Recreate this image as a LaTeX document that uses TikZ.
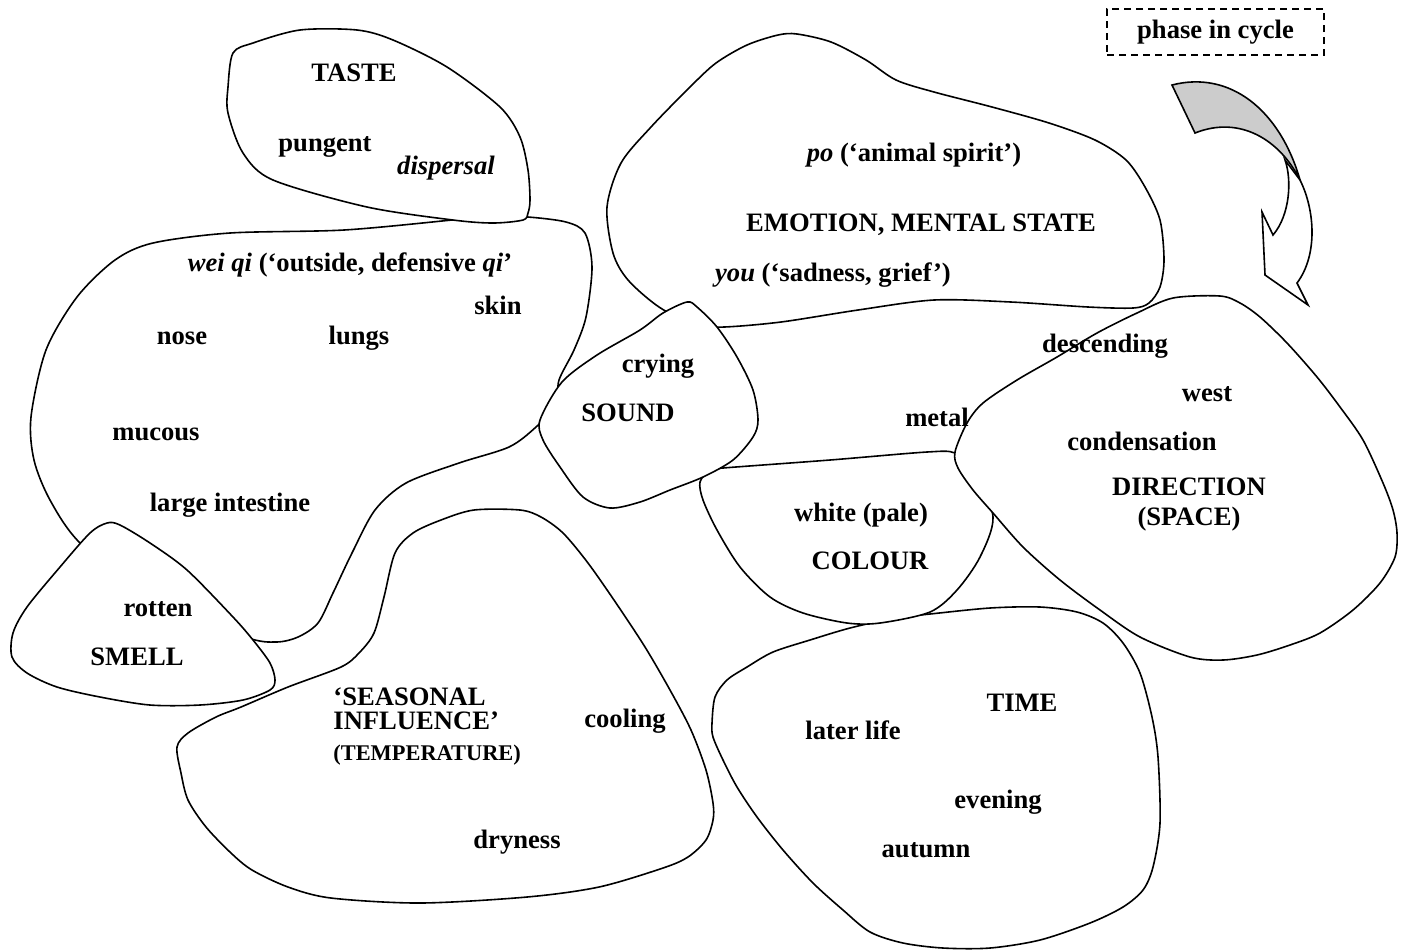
\documentclass[tikz,border=0pt]{standalone}
\usepackage{fontspec}
\setmainfont{Liberation Serif}
\usetikzlibrary{positioning}

\begin{document}
\begin{tikzpicture}[x=0.5pt, y=-0.5pt,
  blob/.style={draw, line width=0.8pt, fill=white},
  ribbon/.style={draw, line width=0.8pt, line join=miter},
  lbl/.style={font=\fontsize{13.3}{15}\selectfont\bfseries, inner sep=0pt, align=center},
  smalllbl/.style={font=\fontsize{11.2}{13}\selectfont\bfseries, inner sep=0pt}]
\useasboundingbox (0,0) rectangle (1406,950);

% Blobs (back to front)
\draw[blob] plot[smooth cycle, tension=0.5] coordinates {(452,220) (344,230) (230,233) (153,243) (115,260) (77,297) (46,350) (31,417) (34,460) (50,500) (80,543) (150,600) (245,637) (276,642) (298,637) (318,623) (333,593) (352,553) (375,510) (406,483) (459,463) (509,447) (536,427) (556,405) (559,380) (574,350) (586,317) (592,267) (585,233) (566,222) (528,217) (490,216)};
\draw[blob] plot[smooth cycle, tension=0.5] coordinates {(607,207) (621,163) (651,127) (690,87) (716,63) (747,45) (778,35) (797,34) (831,42) (866,60) (896,80) (934,92) (992,107) (1049,123) (1095,140) (1126,160) (1145,187) (1160,220) (1164,260) (1160,287) (1149,303) (1133,308) (1088,307) (1011,302) (934,300) (858,310) (781,322) (724,327) (695,325) (659,307) (628,280) (613,253)};
\draw[blob] plot[smooth cycle, tension=0.5] coordinates {(930,614) (990,608) (1040,607) (1077,612) (1103,623) (1123,643) (1140,673) (1152,717) (1158,757) (1160,823) (1153,867) (1143,890) (1123,907) (1090,923) (1040,940) (990,948) (943,948) (903,943) (870,932) (843,910) (813,883) (783,850) (757,817) (737,787) (723,760) (713,737) (712,723) (715,697) (727,680) (747,667) (773,652) (810,640) (850,628) (895,618)};
\draw[blob] plot[smooth cycle, tension=0.5] coordinates {(441,520) (474,510) (520,510) (541,517) (563,533) (588,563) (616,603) (645,647) (670,690) (691,730) (706,770) (713,803) (713,820) (706,840) (688,857) (663,868) (599,887) (527,897) (420,903) (331,898) (288,887) (252,870) (231,853) (206,827) (188,800) (181,773) (177,747) (188,733) (216,717) (241,707) (288,687) (341,667) (359,653) (374,633) (384,597) (395,553) (413,533)};
\draw[blob] plot[smooth cycle, tension=0.5] coordinates {(723,468) (830,460) (927,452) (955,453) (975,470) (993,517) (980,557) (957,590) (930,612) (880,623) (847,623) (803,613) (770,597) (740,567) (717,530) (703,500) (700,482) (710,470)};
\draw[blob] plot[smooth cycle, tension=0.5] coordinates {(687,302) (697,307) (717,327) (737,357) (753,390) (758,420) (753,437) (733,460) (703,477) (670,490) (640,502) (610,508) (583,497) (560,467) (543,440) (540,420) (562,382) (597,355) (640,330) (663,313)};
\draw[blob] plot[smooth cycle, tension=0.5] coordinates {(955,452) (958,468) (973,490) (993,513) (1023,547) (1060,580) (1100,610) (1140,637) (1190,657) (1223,660) (1257,655) (1290,645) (1320,633) (1353,610) (1380,583) (1395,557) (1397,533) (1393,510) (1383,483) (1363,440) (1340,407) (1317,377) (1287,343) (1260,317) (1240,303) (1220,296) (1173,298) (1137,313) (1097,333) (1057,357) (1017,380) (983,403) (967,423)};
\draw[blob] plot[smooth cycle, tension=0.5] coordinates {(233,53) (253,43) (300,30) (357,30) (393,40) (447,67) (500,107) (520,137) (528,170) (530,200) (528,213) (523,220) (493,223) (453,220) (367,207) (273,180) (243,153) (228,113) (228,87)};
\draw[blob] plot[smooth cycle, tension=0.5] coordinates {(107,523) (120,525) (150,543) (187,570) (233,617) (253,640) (270,663) (275,680) (270,690) (243,700) (200,705) (150,705) (100,697) (57,687) (27,673) (12,657) (13,633) (27,607) (60,567) (90,533)};

% Cycle arrow
\draw[ribbon, fill=gray!40] (1172,85) .. controls (1230,70) and (1280,110) .. (1300,180)
  .. controls (1280,140) and (1240,115) .. (1195,133) -- cycle;
\draw[ribbon, fill=white] (1285,160) .. controls (1292,180) and (1290,215) .. (1273,235)
  -- (1262,212) -- (1265,275) -- (1308,305) -- (1297,283)
  .. controls (1318,255) and (1315,210) .. (1300,180) -- cycle;

% Legend
\node[lbl, draw, line width=0.6pt, dash pattern=on 3.5pt off 2.5pt,
  minimum width=108.5pt, minimum height=23pt] (phase) at (1215.5,32) {phase in cycle};

% Labels
\node[lbl] (taste) at (354,73) {TASTE};
\node[lbl] (pungent) at (325,147) {pungent};
\node[lbl] (dispersal) at (446,168) {\itshape dispersal};

\node[lbl] (weiqi) at (350,265) {\itshape wei qi\upshape{} (‘outside, defensive \itshape qi\upshape’};
\node[lbl] (skin) at (498,305) {skin};
\node[lbl] (nose) at (182,338) {nose};
\node[lbl] (lungs) at (359,338) {lungs};
\node[lbl] (mucous) at (156,434) {mucous};
\node[lbl] (intestine) at (230,505) {large intestine};

\node[lbl] (rotten) at (158,609) {rotten};
\node[lbl] (smell) at (137,657) {SMELL};

\node[lbl] (crying) at (658,366) {crying};
\node[lbl] (sound) at (628,413) {SOUND};

\node[lbl] (po) at (914,155) {\itshape po\upshape{} (‘animal spirit’)};
\node[lbl] (emotion) at (921,225) {EMOTION, MENTAL STATE};
\node[lbl] (you) at (833,275) {\itshape you\upshape{} (‘sadness, grief’)};

\node[lbl] (metal) at (937,417) {metal};

\node[lbl] (descending) at (1105,346) {descending};
\node[lbl] (west) at (1207,394) {west};
\node[lbl] (condensation) at (1142,441) {condensation};
\node[lbl] (direction) at (1189,505) {DIRECTION\\(SPACE)};

\node[lbl] (white) at (861,515) {white (pale)};
\node[lbl] (colour) at (870,561) {COLOUR};

\node[lbl, anchor=west] (seasonal) at (333,697) {‘SEASONAL};
\node[lbl, anchor=west] (influence) at (333,721) {INFLUENCE’};
\node[smalllbl, anchor=west] (temperature) at (333,755) {(TEMPERATURE)};
\node[lbl] (cooling) at (625,721) {cooling};
\node[lbl] (dryness) at (517,842) {dryness};

\node[lbl] (time) at (1022,703) {TIME};
\node[lbl] (later) at (853,730) {later life};
\node[lbl] (evening) at (998,802) {evening};
\node[lbl] (autumn) at (926,850) {autumn};

\end{tikzpicture}
\end{document}
